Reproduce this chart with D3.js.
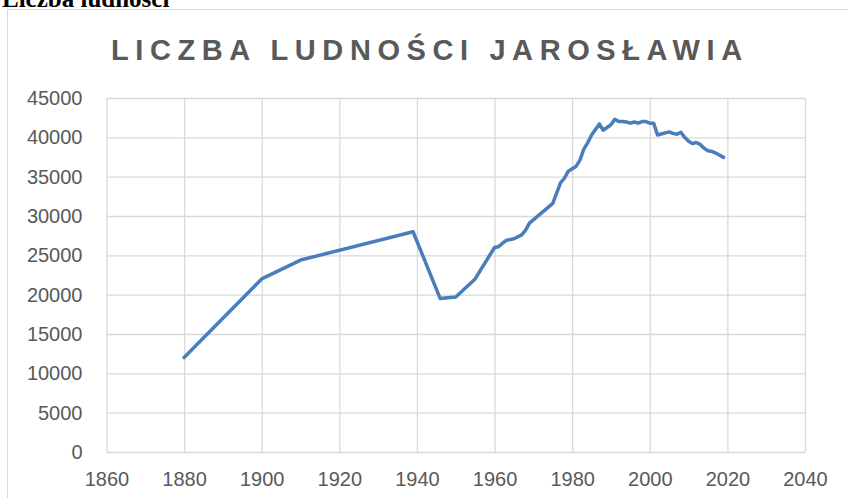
<!DOCTYPE html>
<html>
<head>
<meta charset="utf-8">
<script src="https://cdn.jsdelivr.net/npm/d3@7"></script>
<style>
  body { margin: 0; background: #fff; }
  svg { display: block; }
</style>
</head>
<body>
<div id="chart"></div>
<script>
// population of Jarosław
var years = [1880, 1900, 1910, 1939, 1946, 1950, 1955, 1960, 1961, 1963, 1965, 1967, 1968, 1969,
             1975, 1977, 1978, 1979, 1980, 1981, 1982, 1983, 1984, 1985, 1986, 1987, 1988, 1990,
             1991, 1992, 1993, 1994, 1995, 1996, 1997, 1998, 1999, 2000, 2001, 2002, 2005, 2006,
             2007, 2008, 2009, 2010, 2011, 2012, 2013, 2014, 2015, 2016, 2017, 2019];
var population = [12000, 22000, 24400, 28000, 19500, 19700, 22000, 26000, 26100, 26900, 27100, 27600, 28200, 29100,
                  31600, 34200, 34800, 35700, 36000, 36300, 37100, 38500, 39300, 40300, 41000, 41700, 40900, 41600,
                  42300, 42000, 42000, 41950, 41800, 41950, 41800, 42000, 42000, 41800, 41800, 40300, 40700, 40500,
                  40400, 40650, 40000, 39500, 39200, 39350, 39100, 38600, 38300, 38200, 38000, 37450];
var xTicks = [1860, 1880, 1900, 1920, 1940, 1960, 1980, 2000, 2020, 2040];
var yTicks = [0, 5000, 10000, 15000, 20000, 25000, 30000, 35000, 40000, 45000];

var W = 848, H = 498;
var plot = {left: 106.5, right: 805, top: 98, bottom: 452};

var svg = d3.select("#chart").append("svg")
    .attr("width", W)
    .attr("height", H);

// page text above the chart (cut by the top edge)
svg.append("text")
    .attr("x", 2)
    .attr("y", 7)
    .attr("font-family", "Liberation Serif, serif")
    .attr("font-weight", "bold")
    .attr("font-size", 25)
    .attr("fill", "#000")
    .text("Liczba ludności");

// chart frame
svg.append("rect")
    .attr("x", 7.5)
    .attr("y", 9.5)
    .attr("width", 900)
    .attr("height", 600)
    .attr("fill", "#fff")
    .attr("stroke", "#d9d9d9");

svg.append("text")
    .attr("x", 111)
    .attr("y", 60)
    .attr("font-family", "Liberation Sans, Arial, sans-serif")
    .attr("font-weight", "bold")
    .attr("font-size", 29)
    .attr("letter-spacing", 6.6)
    .attr("fill", "#595959")
    .text("LICZBA LUDNOŚCI JAROSŁAWIA");

var x = d3.scaleLinear().domain([1860, 2040]).range([plot.left, plot.right]);
var y = d3.scaleLinear().domain([0, 45000]).range([plot.bottom, plot.top]);

// y gridlines + labels
var gy = svg.append("g")
    .attr("transform", "translate(" + plot.left + ",0)")
    .call(d3.axisLeft(y)
        .tickValues(yTicks)
        .tickSize(-(plot.right - plot.left))
        .tickPadding(24)
        .tickFormat(d3.format("d")));

// x gridlines + labels
var gx = svg.append("g")
    .attr("transform", "translate(0," + plot.bottom + ")")
    .call(d3.axisBottom(x)
        .tickValues(xTicks)
        .tickSize(-(plot.bottom - plot.top))
        .tickPadding(20)
        .tickFormat(d3.format("d")));

[gx, gy].forEach(function(g){
    g.select(".domain").remove();
    g.selectAll(".tick line")
        .attr("stroke", "#d9d9d9")
        .attr("stroke-width", 1.3);
    g.selectAll(".tick text")
        .attr("fill", "#595959")
        .attr("font-family", "Liberation Sans, Arial, sans-serif")
        .attr("font-size", 20);
});

var line = d3.line()
    .x(function(d, i){ return x(years[i]); })
    .y(function(d){ return y(d); });

svg.append("path")
    .datum(population)
    .attr("d", line)
    .attr("fill", "none")
    .attr("stroke", "#4a7ebb")
    .attr("stroke-width", 3.5)
    .attr("stroke-linejoin", "round")
    .attr("stroke-linecap", "round");
</script>
</body>
</html>
